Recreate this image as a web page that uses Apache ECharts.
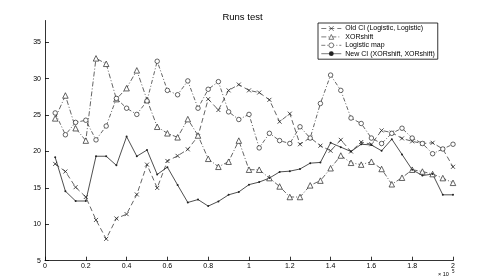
<!DOCTYPE html>
<html>
<head>
<meta charset="utf-8">
<script src="https://cdn.jsdelivr.net/npm/echarts@6/dist/echarts.min.js"></script>
<style>html,body{margin:0;padding:0;background:#fff}#c{width:485px;height:277px}</style>
</head>
<body>
<div id="c"></div>
<script>
const titleText = 'Runs test';
const seriesNames = ['Old CI (Logistic, Logistic)', 'XORshift', 'Logistic map', 'New CI (XORshift, XORshift)'];
const xValues = [0.05,0.1,0.15,0.2,0.25,0.3,0.35,0.4,0.45,0.5,0.55,0.6,0.65,0.7,0.75,0.8,0.85,0.9,0.95,1.0,
                 1.05,1.1,1.15,1.2,1.25,1.3,1.35,1.4,1.45,1.5,1.55,1.6,1.65,1.7,1.75,1.8,1.85,1.9,1.95,2.0];
const oldCI = [18.3,17.25,15.1,13.75,10.6,8.0,10.8,11.4,14.1,18.2,
               15.0,18.7,19.4,20.3,22.1,27.2,25.7,28.4,29.2,28.4,
               28.1,27.1,24.1,25.2,21.0,21.9,20.8,20.1,21.6,20.0,
               21.3,21.0,22.9,22.6,21.8,21.4,21.1,21.2,20.35,17.9];
const xorshift = [24.55,27.7,23.2,21.5,32.8,32.05,27.2,28.7,31.15,27.1,
                  23.4,22.5,21.95,24.45,22.2,19.0,17.9,18.6,21.5,17.5,
                  17.5,16.35,15.2,13.75,13.75,15.35,16.0,17.7,19.45,18.45,
                  18.2,18.6,17.6,15.5,16.4,17.5,17.25,16.9,16.35,15.7];
const logistic = [25.3,22.3,24.0,24.3,21.6,23.5,27.3,25.95,25.1,26.95,
                  32.4,28.4,27.8,29.7,25.95,28.55,29.6,25.45,24.4,25.1,
                  20.5,22.5,21.5,21.1,23.4,21.85,26.6,30.5,28.4,24.6,
                  23.85,21.85,21.1,22.5,23.2,21.85,21.1,19.7,20.35,21.0];
const newCI = [19.2,14.55,13.2,13.2,19.35,19.35,18.1,22.05,19.35,20.2,
               16.85,17.85,15.4,13.0,13.4,12.5,13.15,14.05,14.45,15.45,
               15.8,16.35,17.2,17.3,17.6,18.4,18.5,21.2,20.6,20.0,
               21.0,20.9,20.1,21.7,19.6,17.5,16.7,16.9,14.05,14.05];
const yTicks = [5,10,15,20,25,30,35];
const xTicks = [0,0.2,0.4,0.6,0.8,1,1.2,1.4,1.6,1.8,2];

const FONT = 'Liberation Sans, Arial, Helvetica, sans-serif';
const pair = arr => xValues.map((x, i) => [x, arr[i]]);

const chart = echarts.init(document.getElementById('c'), null, {renderer: 'canvas'});
const lineCol = '#222';
chart.setOption({
  animation: false,
  backgroundColor: '#fff',
  title: {text: titleText, left: 'center', top: 7,
    textStyle: {fontFamily: FONT, fontSize: 9.5, fontWeight: 'normal', color: '#000'}},
  legend: {
    orient: 'vertical', left: 318, top: 23,
    borderColor: '#000', borderWidth: 0.8, backgroundColor: '#fff',
    padding: [2, 3, 2, 3], itemGap: 1.4, itemWidth: 20, itemHeight: 6,
    itemStyle: {borderWidth: 0.6},
    lineStyle: {width: 0.6},
    textStyle: {fontFamily: FONT, fontSize: 7, color: '#000', lineHeight: 7, padding: [0, 0, 0, -1]},
    data: seriesNames
  },
  grid: {left: 45, right: 32, top: 20.5, bottom: 16.3},
  xAxis: {
    type: 'value', min: 0, max: 2, interval: 0.2,
    axisLine: {lineStyle: {color: '#000', width: 0.8}},
    axisTick: {inside: true, length: 4, lineStyle: {color: '#000', width: 0.8}},
    axisLabel: {fontFamily: FONT, fontSize: 7, color: '#000', margin: 2,
      customValues: xTicks, formatter: v => String(Math.round(v * 10) / 10)},
    splitLine: {show: false}
  },
  yAxis: {
    type: 'value', min: 5, max: 38,
    axisLine: {show: true, lineStyle: {color: '#000', width: 0.8}},
    axisTick: {show: true, inside: true, length: 4, customValues: yTicks, lineStyle: {color: '#000', width: 0.8}},
    axisLabel: {fontFamily: FONT, fontSize: 7, color: '#000', margin: 4, customValues: yTicks},
    splitLine: {show: false}
  },
  series: [
    {name: seriesNames[0], type: 'line', data: pair(oldCI),
      symbol: 'path://M0,0L10,10M10,0L0,10', symbolSize: 4,
      itemStyle: {color: '#fff', borderColor: lineCol, borderWidth: 0.8},
      lineStyle: {color: lineCol, width: 0.7, type: [5, 3]}},
    {name: seriesNames[1], type: 'line', data: pair(xorshift),
      symbol: 'triangle', symbolSize: 5.5,
      itemStyle: {color: '#fff', borderColor: lineCol, borderWidth: 0.7},
      lineStyle: {color: lineCol, width: 0.7, type: [5, 2, 1, 2]}},
    {name: seriesNames[2], type: 'line', data: pair(logistic),
      symbol: 'circle', symbolSize: 4.5,
      itemStyle: {color: '#fff', borderColor: lineCol, borderWidth: 0.7},
      lineStyle: {color: lineCol, width: 0.7, type: [4, 2, 1, 2]}},
    {name: seriesNames[3], type: 'line', data: pair(newCI),
      symbol: 'circle', symbolSize: 2,
      itemStyle: {color: lineCol, borderWidth: 0},
      lineStyle: {color: lineCol, width: 0.8, type: 'solid'}}
  ],
  graphic: [
    {type: 'text', left: 438, top: 271.5, style: {text: '× 10', fontFamily: FONT, fontSize: 5.5, fill: '#000'}},
    {type: 'text', left: 452, top: 269.5, style: {text: '5', fontFamily: FONT, fontSize: 4.5, fill: '#000'}}
  ]
});
</script>
</body>
</html>
